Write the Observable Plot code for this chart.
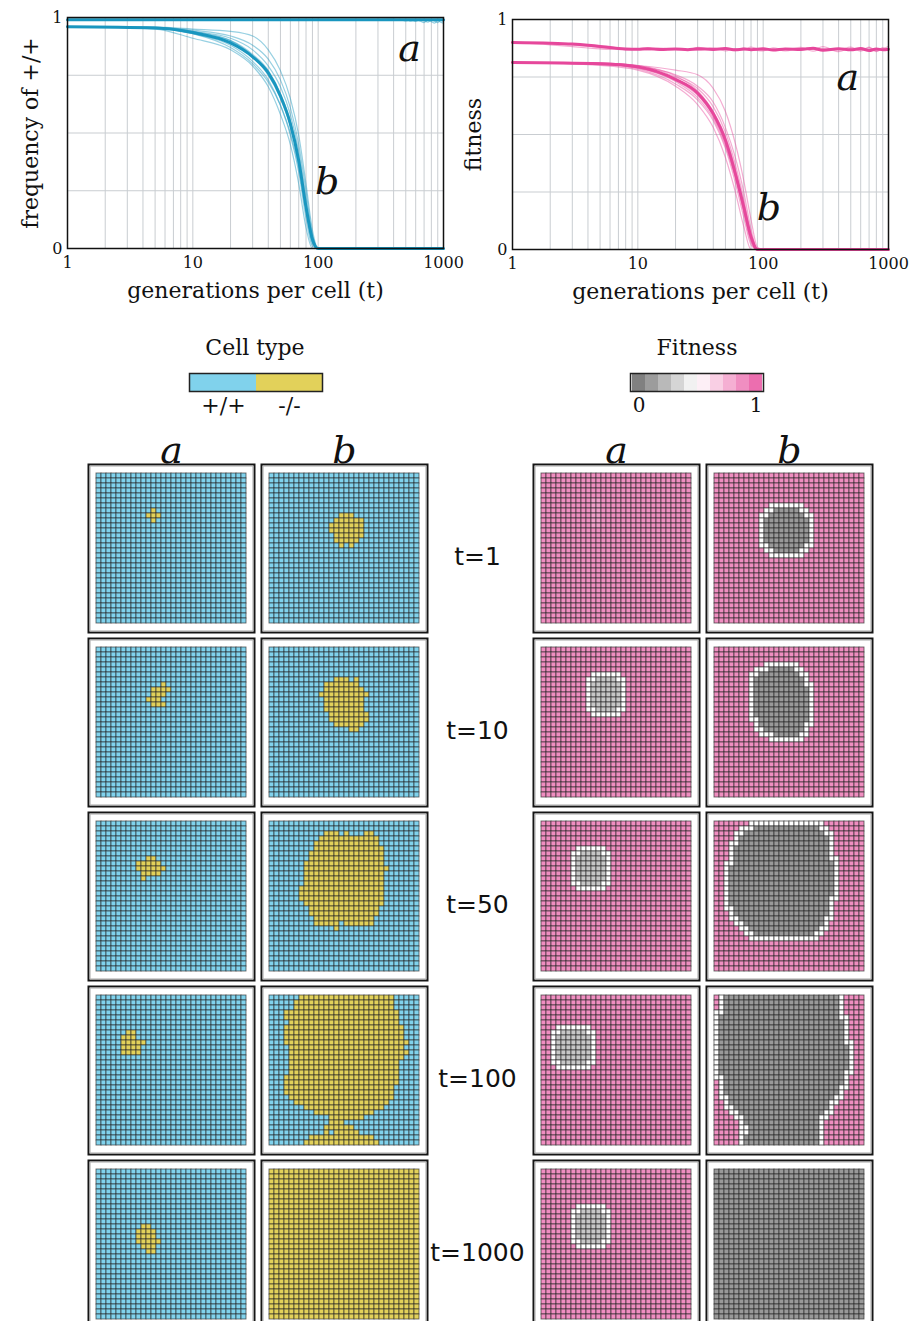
<!DOCTYPE html>
<html><head><meta charset="utf-8">
<script src="https://cdn.jsdelivr.net/npm/d3@7"></script>
<script src="https://cdn.jsdelivr.net/npm/@observablehq/plot@0.6"></script>
<style>
body{margin:0;background:#fff;}
#root{position:relative;width:911px;height:1321px;overflow:hidden;font-family:"DejaVu Serif",serif;color:#111;}
.abs{position:absolute;}
.abs svg{overflow:visible;display:block;}
.title{position:absolute;font-size:22px;transform:translate(-50%,-50%);white-space:nowrap;}
</style></head><body><div id="root"></div>
<script>
// ---------------- line chart data ----------------
const generations = [1, 5, 10, 20, 30, 40, 50, 60, 70, 80, 90, 100, 1000];
const freqBMean = [0.96, 0.955, 0.935, 0.89, 0.83, 0.76, 0.66, 0.54, 0.38, 0.18, 0.04, 0, 0];
const freqBReps = [
  [0.96, 0.95, 0.91, 0.86, 0.79, 0.70, 0.58, 0.45, 0.28, 0.09, 0, 0, 0],
  [0.96, 0.955, 0.93, 0.88, 0.81, 0.73, 0.62, 0.49, 0.33, 0.13, 0.01, 0, 0],
  [0.96, 0.955, 0.935, 0.90, 0.84, 0.77, 0.67, 0.55, 0.39, 0.19, 0.03, 0, 0],
  [0.96, 0.957, 0.94, 0.91, 0.86, 0.79, 0.70, 0.58, 0.42, 0.22, 0.05, 0, 0],
  [0.96, 0.958, 0.95, 0.94, 0.92, 0.86, 0.77, 0.65, 0.49, 0.28, 0.08, 0, 0],
  [0.96, 0.957, 0.945, 0.92, 0.88, 0.82, 0.73, 0.61, 0.45, 0.25, 0.06, 0, 0],
  [0.96, 0.955, 0.93, 0.87, 0.80, 0.72, 0.62, 0.50, 0.35, 0.16, 0.02, 0, 0],
  [0.96, 0.956, 0.94, 0.90, 0.83, 0.75, 0.65, 0.53, 0.37, 0.17, 0.03, 0, 0]
];
const freqATimes = [1, 10, 100, 1000];
const freqAMean = [0.99, 0.99, 0.99, 0.99];
const noiseTimes = [1, 100, 300, 400, 450, 500, 550, 600, 650, 700, 750, 800, 850, 900, 950, 1000];
const freqAReps = [
  [0.99, 0.99, 0.99, 0.988, 0.992, 0.985, 0.99, 0.983, 0.992, 0.986, 0.98, 0.99, 0.984, 0.978, 0.988, 0.982],
  [0.99, 0.99, 0.991, 0.993, 0.987, 0.991, 0.984, 0.99, 0.985, 0.978, 0.989, 0.982, 0.976, 0.987, 0.98, 0.975]
];
const fitBMean = [0.813, 0.808, 0.794, 0.74, 0.68, 0.59, 0.475, 0.33, 0.185, 0.055, 0, 0, 0];
const fitBReps = [
  [0.813, 0.80, 0.78, 0.71, 0.63, 0.53, 0.40, 0.25, 0.10, 0, 0, 0, 0],
  [0.813, 0.805, 0.785, 0.72, 0.65, 0.56, 0.44, 0.29, 0.14, 0.02, 0, 0, 0],
  [0.813, 0.808, 0.79, 0.735, 0.67, 0.58, 0.46, 0.32, 0.17, 0.04, 0, 0, 0],
  [0.813, 0.81, 0.80, 0.75, 0.70, 0.62, 0.51, 0.37, 0.22, 0.07, 0, 0, 0],
  [0.813, 0.81, 0.80, 0.78, 0.76, 0.70, 0.60, 0.46, 0.30, 0.13, 0.01, 0, 0],
  [0.813, 0.809, 0.795, 0.76, 0.71, 0.64, 0.53, 0.40, 0.25, 0.09, 0, 0, 0],
  [0.813, 0.806, 0.79, 0.73, 0.66, 0.57, 0.45, 0.31, 0.16, 0.03, 0, 0, 0],
  [0.813, 0.81, 0.80, 0.755, 0.69, 0.60, 0.49, 0.35, 0.20, 0.06, 0, 0, 0]
];
const fitATimes = [1, 2, 3, 4, 5, 6, 7, 8, 10, 12, 15, 20, 25, 30, 40, 50, 60, 70, 80, 100, 120, 150, 200, 250, 300, 400, 500, 600, 700, 800, 900, 1000];
const fitAMean = [0.90, 0.897, 0.893, 0.888, 0.883, 0.878, 0.874, 0.872, 0.871, 0.873, 0.870, 0.872, 0.869, 0.873, 0.870, 0.874, 0.868, 0.872, 0.869, 0.873, 0.867, 0.872, 0.870, 0.875, 0.866, 0.873, 0.868, 0.874, 0.865, 0.872, 0.868, 0.871];
const fitAReps = [
  [0.90, 0.895, 0.89, 0.884, 0.878, 0.874, 0.872, 0.87, 0.874, 0.868, 0.876, 0.87, 0.866, 0.879, 0.868, 0.875, 0.865, 0.876, 0.87, 0.864, 0.877, 0.868, 0.879, 0.862, 0.874, 0.868, 0.88, 0.862, 0.877, 0.86, 0.878, 0.866],
  [0.90, 0.89, 0.882, 0.876, 0.872, 0.87, 0.874, 0.868, 0.872, 0.877, 0.866, 0.874, 0.871, 0.866, 0.877, 0.864, 0.874, 0.868, 0.88, 0.866, 0.872, 0.863, 0.876, 0.869, 0.882, 0.86, 0.875, 0.866, 0.88, 0.864, 0.872, 0.884]
];
const freqLabels = [{label: "a", t: 535, v: 0.866}, {label: "b", t: 118, v: 0.29}];
const fitLabels = [{label: "a", t: 473, v: 0.745}, {label: "b", t: 111, v: 0.18}];
const xTicks = [1, 10, 100, 1000];
const yTicks = [0, 1];
const yGrid = [0.25, 0.5, 0.75];

// ---------------- grid data ----------------
// spans: [rowStart, rowEnd, colStart, colEnd] of -/- cells (or low-fitness cells)
const columns = ["a", "b"];
const timeRows = ["t=1", "t=10", "t=50", "t=100", "t=1000"];
const cellTypes = ["+/+", "-/-"];
const typeA_t1 = [[7,7,11,11],[8,8,10,12],[9,9,11,11]];
const typeB_t1 = [[8,8,14,16],[9,9,13,18],[10,11,12,18],[12,12,13,18],[13,13,13,17],[14,14,14,14],[14,14,16,16]];
const typeA_t10 = [[7,7,13,13],[8,8,11,14],[9,9,11,13],[10,10,10,12],[11,11,11,13]];
const typeB_t10 = [[6,6,13,15],[6,6,17,17],[7,7,11,17],[8,8,11,18],[9,9,10,19],[10,12,11,18],[13,14,12,19],[15,15,13,18],[16,16,16,17]];
const typeA_t50 = [[7,7,10,11],[8,8,8,12],[9,9,8,13],[10,10,9,12],[11,11,9,9]];
const typeB_t50 = [[2,2,11,13],[2,2,15,15],[2,2,19,20],[3,3,10,21],[4,4,9,21],[5,5,9,22],[6,7,8,22],[8,8,7,22],[9,9,7,23],[10,12,7,22],[13,15,6,22],[16,16,7,22],[17,18,8,21],[19,19,9,20],[20,20,9,13],[20,20,15,20],[21,21,13,13]];
const typeA_t100 = [[7,7,6,7],[8,8,5,7],[9,9,5,9],[10,11,5,8]];
const typeB_t100 = [[0,0,6,24],[1,2,5,24],[3,4,3,25],[5,5,4,25],[6,8,3,26],[9,9,3,27],[10,10,4,26],[11,11,4,27],[12,12,4,26],[13,15,4,25],[16,17,3,25],[18,19,3,24],[20,20,4,24],[21,21,5,23],[22,22,7,22],[23,23,9,20],[24,24,12,18],[25,25,12,14],[26,26,11,16],[27,27,11,11],[27,27,13,17],[28,28,8,20],[29,29,7,21]];
const typeA_t1000 = [[11,11,9,10],[12,13,8,11],[14,14,8,12],[15,15,9,11],[16,16,10,11]];
const typeB_t1000 = [[0,29,0,29]];

const fitA_t1 = [[5,10,10,11]];
const fitB_t1 = [[7,7,12,16],[8,8,11,17],[9,13,10,18],[14,14,11,17],[15,15,12,16]];
const fitA_t10 = [[6,6,11,14],[7,11,10,15],[12,12,11,14]];
const fitB_t10 = [[4,4,11,15],[5,5,9,16],[6,7,8,17],[8,13,8,18],[14,14,9,18],[15,15,9,17],[16,16,10,17],[17,17,12,16]];
const fitA_t50 = [[6,6,8,11],[7,11,7,12],[12,12,8,11]];
const fitB_t50 = [[1,1,8,20],[2,2,6,21],[3,4,5,22],[5,7,4,22],[8,8,4,23],[9,14,3,23],[15,16,3,22],[17,18,4,22],[19,19,5,21],[20,20,6,21],[21,21,7,20],[22,22,8,19]];
const fitA_t100 = [[7,7,4,8],[8,12,3,9],[13,13,4,8]];
const fitB_t100 = [[0,3,2,24],[4,4,1,24],[5,9,1,25],[10,14,1,26],[15,15,1,25],[16,17,2,25],[18,19,2,24],[20,20,3,23],[21,21,3,22],[22,22,4,22],[23,23,5,21],[24,25,6,20],[26,27,7,20],[28,29,6,20]];
const fitA_t1000 = [[8,8,8,11],[9,13,7,12],[14,14,8,11]];
const fitB_t1000 = [[0,29,0,29]];
// fitness of the low-fitness region in each panel (a column, b column)
const fitCoreA = [0.8, 0.3, 0.3, 0.3, 0.3];
const fitCoreB = [0.14, 0.14, 0.14, 0.14, 0.14];
const fitWild = 0.85;
const fitEdge = 0.5;
const legendSteps = [0.05, 0.15, 0.25, 0.35, 0.45, 0.55, 0.65, 0.75, 0.85, 0.95];

// ---------------- styles ----------------
const blue = "#1996bf", pink = "#e6479b";
const cellBlue = "#80d2ec", cellYellow = "#e2d15a";
const fitRange = ["#727272", "#ffffff", "#ea5ea6"];
const serif = "DejaVu Serif";
const N = 30;
const cellIdx = d3.range(N);

const root = document.getElementById("root");
function place(node, left, top) {
  const d = document.createElement("div");
  d.className = "abs"; d.style.left = left + "px"; d.style.top = top + "px";
  d.appendChild(node); root.appendChild(d);
}
function title(text, cx, cy) {
  const d = document.createElement("div");
  d.className = "title"; d.textContent = text;
  d.style.left = cx + "px"; d.style.top = cy + "px";
  root.appendChild(d);
}
const rowsOf = (ts, vals, rep) => ts.map((t, i) => ({t, v: vals[i], rep}));

function lineChart({width, ml, mr, mt, mb, color, thin, thick, labels, ylabel, ydx}) {
  return Plot.plot({
    width, height: 315, marginLeft: ml, marginRight: mr, marginTop: mt, marginBottom: mb,
    style: {fontFamily: serif, background: "transparent", color: "#111"},
    x: {type: "log", domain: [1, 1000]},
    y: {domain: [0, 1]},
    marks: [
      Plot.gridX({ticks: 30, stroke: "#c9cdd1", strokeOpacity: 1}),
      Plot.gridY(yGrid, {stroke: "#c9cdd1", strokeOpacity: 1}),
      Plot.line(thin, {x: "t", y: "v", z: "rep", stroke: color, strokeOpacity: 0.45, strokeWidth: 1.2, curve: "monotone-x"}),
      Plot.line(thick, {x: "t", y: "v", z: "rep", stroke: color, strokeWidth: 3, curve: "monotone-x"}),
      Plot.frame({stroke: "#111", strokeWidth: 1.5}),
      Plot.axisX(xTicks, {tickFormat: d => String(d), tickSize: 0, tickPadding: 8, fontSize: 16, label: null}),
      Plot.axisY(yTicks, {tickFormat: d => String(d), tickSize: 0, tickPadding: 5, fontSize: 16, label: null}),
      Plot.text(labels, {x: "t", y: "v", text: "label", fontSize: 38, fontStyle: "italic", fill: "#111"}),
      Plot.text(["generations per cell (t)"], {text: d => d, frameAnchor: "bottom", textAnchor: "middle", dy: 49, fontSize: 22, fill: "#111"}),
      Plot.text([ylabel], {text: d => d, frameAnchor: "left", textAnchor: "middle", dx: ydx, rotate: -90, fontSize: 22, fill: "#111"})
    ]
  });
}

const freqThin = [...freqBReps.map((r, i) => rowsOf(generations, r, "b" + i)), ...freqAReps.map((r, i) => rowsOf(noiseTimes, r, "a" + i))].flat();
const freqThick = [...rowsOf(generations, freqBMean, "b"), ...rowsOf(freqATimes, freqAMean, "a")];
const fitThin = [...fitBReps.map((r, i) => rowsOf(generations, r, "b" + i)), ...fitAReps.map((r, i) => rowsOf(fitATimes, r, "a" + i))].flat();
const fitThick = [...rowsOf(generations, fitBMean, "b"), ...rowsOf(fitATimes, fitAMean, "a")];

place(lineChart({width: 455, ml: 67, mr: 12, mt: 17, mb: 67, color: blue, thin: freqThin, thick: freqThick, labels: freqLabels, ylabel: "frequency of +/+", ydx: -37}), 0, 0);
place(lineChart({width: 456, ml: 57, mr: 23, mt: 19, mb: 66, color: pink, thin: fitThin, thick: fitThick, labels: fitLabels, ylabel: "fitness", ydx: -39}), 455, 0);

// ---------------- legends ----------------
title("Cell type", 255, 347);
title("Fitness", 697, 347);
place(Plot.plot({
  width: 133, height: 58, marginLeft: 0, marginRight: 0, marginTop: 0, marginBottom: 40,
  style: {fontFamily: serif, background: "transparent", color: "#111"},
  x: {type: "band", domain: cellTypes, padding: 0},
  color: {domain: cellTypes, range: [cellBlue, cellYellow]},
  marks: [
    Plot.cell(cellTypes, {x: d => d, fill: d => d, inset: 0}),
    Plot.frame({stroke: "#222", strokeWidth: 1.5}),
    Plot.axisX({tickSize: 0, tickPadding: 6, fontSize: 22, label: null})
  ]
}), 189, 373);
place(Plot.plot({
  width: 133, height: 58, marginLeft: 0, marginRight: 0, marginTop: 0, marginBottom: 40,
  style: {fontFamily: serif, background: "transparent", color: "#111"},
  x: {type: "band", domain: legendSteps, padding: 0},
  color: {type: "linear", domain: [0, 0.5, 1], range: fitRange, interpolate: "rgb"},
  marks: [
    Plot.cell(legendSteps, {x: d => d, fill: d => d, inset: 0}),
    Plot.frame({stroke: "#222", strokeWidth: 1.5}),
    Plot.axisX([legendSteps[0], legendSteps[legendSteps.length - 1]], {tickFormat: d => (d < 0.5 ? "0" : "1"), tickSize: 0, tickPadding: 6, fontSize: 20, label: null})
  ]
}), 630, 373);

// ---------------- grids ----------------
function spanSet(spans) {
  const s = new Set();
  for (const [r0, r1, c0, c1] of spans)
    for (let r = r0; r <= r1; r++) for (let c = c0; c <= c1; c++) s.add(r * N + c);
  return s;
}
const typeSpans = {a: [typeA_t1, typeA_t10, typeA_t50, typeA_t100, typeA_t1000], b: [typeB_t1, typeB_t10, typeB_t50, typeB_t100, typeB_t1000]};
const fitSpans = {a: [fitA_t1, fitA_t10, fitA_t50, fitA_t100, fitA_t1000], b: [fitB_t1, fitB_t10, fitB_t50, fitB_t100, fitB_t1000]};
const fitCore = {a: fitCoreA, b: fitCoreB};

const typeCells = [];
const fitCells = [];
for (const col of columns) {
  timeRows.forEach((t, k) => {
    const mut = spanSet(typeSpans[col][k]);
    for (const r of cellIdx) for (const c of cellIdx)
      typeCells.push({col, t, r, c, type: mut.has(r * N + c) ? "-/-" : "+/+"});
    const core = spanSet(fitSpans[col][k]);
    const coreV = fitCore[col][k];
    for (const r of cellIdx) for (const c of cellIdx) {
      let v = fitWild;
      if (core.has(r * N + c)) v = coreV;
      else if (coreV < fitEdge) {
        let near = false;
        for (let dr = -1; dr <= 1; dr++) for (let dc = -1; dc <= 1; dc++) {
          const rr = r + dr, cc = c + dc;
          if (rr >= 0 && rr < N && cc >= 0 && cc < N && core.has(rr * N + cc)) near = true;
        }
        if (near) v = fitEdge;
      }
      fitCells.push({col, t, r, c, v});
    }
  });
}

function gridPlot(data, fill, color, withFy) {
  const marks = [
    Plot.cell(data, {x: "c", y: "r", fx: "col", fy: "t", fill, stroke: "#262626", strokeWidth: 0.9, strokeOpacity: 0.7, inset: 0}),
    Plot.frame({stroke: "#151515", strokeWidth: 2, inset: 1}),
    Plot.frame({stroke: "#b5b5b5", strokeWidth: 1, inset: 2.6}),
    Plot.axisFx({anchor: "top", tickSize: 0, tickPadding: 0, dy: -1, fontSize: 38, fontStyle: "italic", fontFamily: serif, label: null})
  ];
  if (withFy) marks.push(Plot.axisFy({anchor: "right", tickSize: 0, tickPadding: 49, textAnchor: "middle", dy: 8, fontSize: 25, fontFamily: "DejaVu Sans", label: null}));
  return Plot.plot({
    width: withFy ? 531 : 342, height: 909,
    marginLeft: withFy ? 87 : 0, marginRight: withFy ? 103 : 0, marginTop: 43, marginBottom: 0,
    style: {fontFamily: serif, background: "transparent", color: "#111"},
    x: {type: "band", domain: cellIdx, paddingInner: 0, paddingOuter: 0.62, axis: null},
    y: {type: "band", domain: cellIdx, paddingInner: 0, paddingOuter: 0.62, axis: null},
    fx: {domain: columns, paddingInner: 0.03, paddingOuter: 0, label: null, axis: null},
    fy: {domain: timeRows, paddingInner: 0.023, paddingOuter: 0, label: null, axis: null},
    color,
    marks
  });
}
place(gridPlot(typeCells, "type", {domain: cellTypes, range: [cellBlue, cellYellow]}, true), 0, 420);
place(gridPlot(fitCells, "v", {type: "linear", domain: [0, 0.5, 1], range: fitRange, interpolate: "rgb"}, false), 531, 420);
</script></body></html>
